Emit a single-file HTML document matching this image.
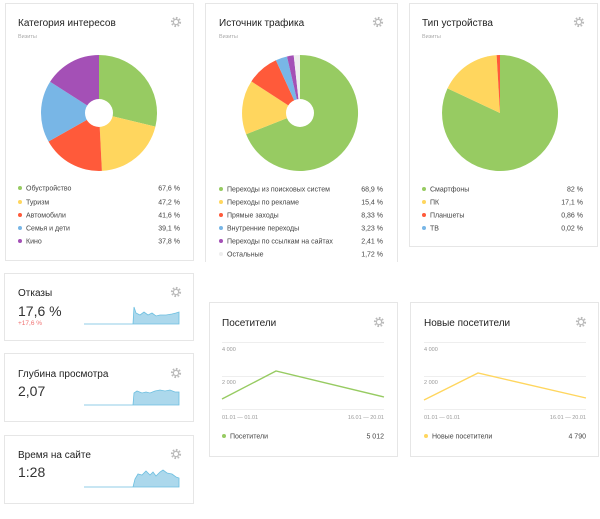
<!DOCTYPE html>
<html><head><meta charset="utf-8"><style>
html,body{margin:0;padding:0;background:#fff;}
svg{display:block;font-family:"Liberation Sans","DejaVu Sans",sans-serif;}
</style></head><body>
<svg width="600" height="519" viewBox="0 0 600 519" xmlns="http://www.w3.org/2000/svg">
<defs>
<g id="gear"><circle r="4" fill="none" stroke="#bbb" stroke-width="2.2" stroke-dasharray="1.6 1.5"/><circle r="2.6" fill="none" stroke="#bbb" stroke-width="1.2"/></g>
</defs>
<g fill="#fff" stroke="#e6e6e6" stroke-width="1">
<rect x="5.5" y="3.5" width="188" height="257"/>
<rect x="205.5" y="3.5" width="192" height="262"/>
<rect x="409.5" y="3.5" width="188" height="243"/>
<rect x="4.5" y="273.5" width="189" height="67"/>
<rect x="4.5" y="353.5" width="189" height="68"/>
<rect x="4.5" y="435.5" width="189" height="68"/>
<rect x="209.5" y="302.5" width="188" height="154"/>
<rect x="410.5" y="302.5" width="188" height="154"/>
</g>
<rect x="200" y="262" width="205" height="10" fill="#fff"/>
<g font-size="10" fill="#222">
<text x="18" y="26">Категория интересов</text>
<text x="219" y="26">Источник трафика</text>
<text x="422" y="26">Тип устройства</text>
<text x="18" y="296">Отказы</text>
<text x="18" y="377">Глубина просмотра</text>
<text x="18" y="458">Время на сайте</text>
<text x="222" y="326">Посетители</text>
<text x="424" y="326">Новые посетители</text>
</g>
<g font-size="5.5" fill="#aaa"><text x="18" y="38">Визиты</text><text x="219" y="38">Визиты</text><text x="422" y="38">Визиты</text></g>
<use href="#gear" x="176" y="22"/><use href="#gear" x="378" y="22"/><use href="#gear" x="579" y="22"/>
<use href="#gear" x="176" y="292"/><use href="#gear" x="176" y="373"/><use href="#gear" x="176" y="454"/>
<use href="#gear" x="379" y="322"/><use href="#gear" x="581" y="322"/>
<g transform="translate(99,113)">
<path d="M0,0 L0,-58 A58,58 0 0 1 56.4,13.6 Z" fill="#97cb62"/>
<path d="M0,0 L56.4,13.6 A58,58 0 0 1 2.9,57.9 Z" fill="#ffd65e"/>
<path d="M0,0 L2.9,57.9 A58,58 0 0 1 -50.5,28.5 Z" fill="#ff5a3a"/>
<path d="M0,0 L-50.5,28.5 A58,58 0 0 1 -48.9,-31.2 Z" fill="#78b6e6"/>
<path d="M0,0 L-48.9,-31.2 A58,58 0 0 1 0,-58 Z" fill="#a450b6"/>
<circle r="14" fill="#fff"/>
</g>
<g transform="translate(300,113)">
<path d="M0,0 L0,-58 A58,58 0 1 1 -53.9,21.3 Z" fill="#97cb62"/>
<path d="M0,0 L-53.9,21.3 A58,58 0 0 1 -48.6,-31.6 Z" fill="#ffd65e"/>
<path d="M0,0 L-48.6,-31.6 A58,58 0 0 1 -24.1,-52.8 Z" fill="#ff5a3a"/>
<path d="M0,0 L-24.1,-52.8 A58,58 0 0 1 -13.0,-56.5 Z" fill="#78b6e6"/>
<path d="M0,0 L-13.0,-56.5 A58,58 0 0 1 -6.3,-57.7 Z" fill="#a450b6"/>
<path d="M0,0 L-6.3,-57.7 A58,58 0 0 1 0,-58 Z" fill="#eeeeee"/>
<circle r="14" fill="#fff"/>
</g>
<g transform="translate(500,113)">
<path d="M0,0 L0,-58 A58,58 0 1 1 -52.5,-24.6 Z" fill="#97cb62"/>
<path d="M0,0 L-52.5,-24.6 A58,58 0 0 1 -3.4,-57.9 Z" fill="#ffd65e"/>
<path d="M0,0 L-3.4,-57.9 A58,58 0 0 1 0,-58 Z" fill="#ff5a3a"/>
</g>
<g font-size="7" fill="#444">
<circle cx="20" cy="188" r="2" fill="#97cb62"/><text x="26" y="190.5">Обустройство</text><text x="180" y="190.5" text-anchor="end">67,6 %</text>
<circle cx="20" cy="202" r="2" fill="#ffd65e"/><text x="26" y="204.5">Туризм</text><text x="180" y="204.5" text-anchor="end">47,2 %</text>
<circle cx="20" cy="215" r="2" fill="#ff5a3a"/><text x="26" y="217.5">Автомобили</text><text x="180" y="217.5" text-anchor="end">41,6 %</text>
<circle cx="20" cy="228" r="2" fill="#78b6e6"/><text x="26" y="230.5">Семья и дети</text><text x="180" y="230.5" text-anchor="end">39,1 %</text>
<circle cx="20" cy="241" r="2" fill="#a450b6"/><text x="26" y="243.5">Кино</text><text x="180" y="243.5" text-anchor="end">37,8 %</text>
<circle cx="221" cy="189" r="2" fill="#97cb62"/><text x="227" y="191.5">Переходы из поисковых систем</text><text x="383" y="191.5" text-anchor="end">68,9 %</text>
<circle cx="221" cy="202" r="2" fill="#ffd65e"/><text x="227" y="204.5">Переходы по рекламе</text><text x="383" y="204.5" text-anchor="end">15,4 %</text>
<circle cx="221" cy="215" r="2" fill="#ff5a3a"/><text x="227" y="217.5">Прямые заходы</text><text x="383" y="217.5" text-anchor="end">8,33 %</text>
<circle cx="221" cy="228" r="2" fill="#78b6e6"/><text x="227" y="230.5">Внутренние переходы</text><text x="383" y="230.5" text-anchor="end">3,23 %</text>
<circle cx="221" cy="241" r="2" fill="#a450b6"/><text x="227" y="243.5">Переходы по ссылкам на сайтах</text><text x="383" y="243.5" text-anchor="end">2,41 %</text>
<circle cx="221" cy="254" r="2" fill="#eee"/><text x="227" y="256.5">Остальные</text><text x="383" y="256.5" text-anchor="end">1,72 %</text>
<circle cx="424" cy="189" r="2" fill="#97cb62"/><text x="430" y="191.5">Смартфоны</text><text x="583" y="191.5" text-anchor="end">82 %</text>
<circle cx="424" cy="202" r="2" fill="#ffd65e"/><text x="430" y="204.5">ПК</text><text x="583" y="204.5" text-anchor="end">17,1 %</text>
<circle cx="424" cy="215" r="2" fill="#ff5a3a"/><text x="430" y="217.5">Планшеты</text><text x="583" y="217.5" text-anchor="end">0,86 %</text>
<circle cx="424" cy="228" r="2" fill="#78b6e6"/><text x="430" y="230.5">ТВ</text><text x="583" y="230.5" text-anchor="end">0,02 %</text>
</g>
<g fill="#333" font-size="14">
<text x="18" y="316">17,6 %</text>
<text x="18" y="396">2,07</text>
<text x="18" y="477">1:28</text>
</g>
<text x="18" y="325" font-size="6.5" fill="#f07070">+17,6 %</text>
<g fill="#acd8ec" stroke="#6cbfe0" stroke-width="0.8">
<path d="M84,324 L133,324 L134,307 L136,313 L140,315 L144,312 L148,315 L152,313 L156,316 L160,315 L166,315 L172,314 L176,313 L179,312 L179,324 Z"/>
<path d="M84,405 L133,405 L134,393 L137,391 L142,393 L146,392 L150,393 L155,391 L160,390 L165,391 L170,390 L175,392 L179,392 L179,405 Z"/>
<path d="M84,487 L133,487 L135,479 L138,474 L142,475 L146,471 L150,475 L153,472 L156,476 L160,472 L163,470 L167,473 L172,474 L176,477 L179,478 L179,487 Z"/>
</g>
<g stroke="#eee" stroke-width="1">
<line x1="222" y1="342.5" x2="384" y2="342.5"/><line x1="222" y1="376.5" x2="384" y2="376.5"/><line x1="222" y1="409.5" x2="384" y2="409.5"/>
<line x1="424" y1="342.5" x2="586" y2="342.5"/><line x1="424" y1="376.5" x2="586" y2="376.5"/><line x1="424" y1="409.5" x2="586" y2="409.5"/>
</g>
<g font-size="5.5" fill="#999">
<text x="222" y="351">4 000</text><text x="222" y="384">2 000</text>
<text x="424" y="351">4 000</text><text x="424" y="384">2 000</text>
<text x="222" y="419">01.01 — 01.01</text><text x="384" y="419" text-anchor="end">16.01 — 20.01</text>
<text x="424" y="419">01.01 — 01.01</text><text x="586" y="419" text-anchor="end">16.01 — 20.01</text>
</g>
<polyline points="222,399 276,371 384,397" fill="none" stroke="#97cb62" stroke-width="1.4"/>
<polyline points="424,400 478,373 586,398" fill="none" stroke="#ffd65e" stroke-width="1.4"/>
<g font-size="7" fill="#444">
<circle cx="224" cy="436" r="2" fill="#97cb62"/><text x="230" y="438.5">Посетители</text><text x="384" y="438.5" text-anchor="end">5 012</text>
<circle cx="426" cy="436" r="2" fill="#ffd65e"/><text x="432" y="438.5">Новые посетители</text><text x="586" y="438.5" text-anchor="end">4 790</text>
</g>
</svg>
</body></html>
